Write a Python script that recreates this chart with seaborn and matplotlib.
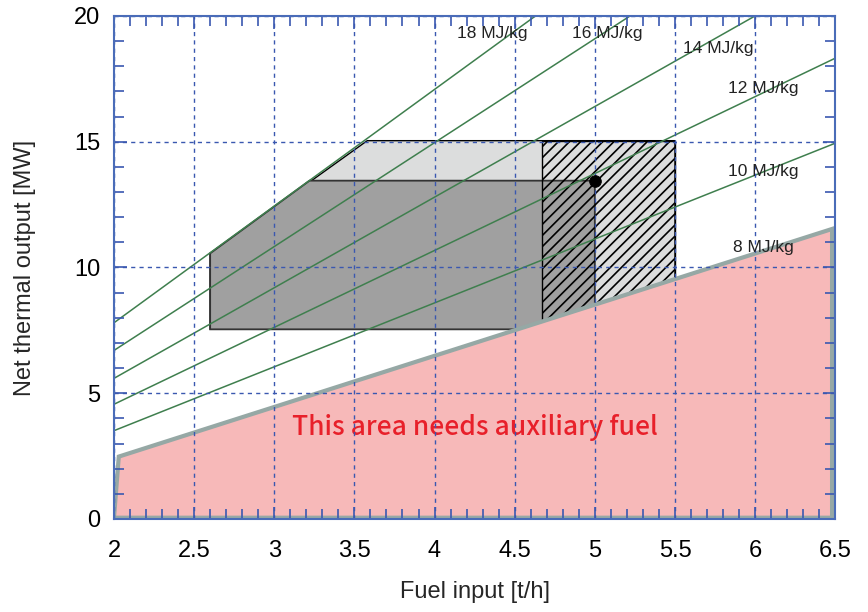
import numpy as np
import pandas as pd
import seaborn as sns
from matplotlib import pyplot as plt
from matplotlib.patches import Polygon, Rectangle
from matplotlib.ticker import MultipleLocator

lhv_values = [10, 12, 14, 16, 18]
line_x0 = [2.0, 2.0, 2.0, 2.0, 2.0]
line_y0 = [3.51, 4.56, 5.59, 6.70, 7.80]
line_x1 = [6.5, 6.5, 6.0, 5.22, 4.63]
line_y1 = [14.94, 18.32, 20.0, 20.0, 20.0]

# Line labels
label_text = ["18 MJ/kg", "16 MJ/kg", "14 MJ/kg", "12 MJ/kg", "10 MJ/kg", "8 MJ/kg"]
label_x = [4.14, 4.86, 5.55, 5.83, 5.83, 5.86]
label_y = [19.3, 19.3, 18.7, 17.1, 13.8, 10.8]

# Auxiliary fuel area (8 MJ/kg boundary)
aux_x = [2.0, 2.03, 6.48, 6.48]
aux_y = [0.05, 2.48, 11.53, 0.05]

# Operating range
range_x = [2.6, 2.6, 3.58, 5.5, 5.5]
range_y = [7.54, 10.56, 15.04, 15.04, 7.54]
normal_x = [2.6, 2.6, 3.22, 5.0, 5.0]
normal_y = [7.54, 10.56, 13.45, 13.45, 7.54]
hatch_x = [4.67, 5.5]
hatch_y = [7.54, 15.04]

# Design point
design_x = [5.0]
design_y = [13.45]

lines_df = pd.DataFrame({
    "lhv": lhv_values * 2,
    "fuel": line_x0 + line_x1,
    "output": line_y0 + line_y1,
})

sns.set_theme(style="white")
plt.rcParams["font.family"] = ["Liberation Sans", "DejaVu Sans"]
plt.rcParams["hatch.linewidth"] = 1.2

blue = "#3a58b0"
fig = plt.figure(figsize=(8.68, 6.12), dpi=100)
ax = fig.add_axes([0.1313, 0.152, 0.831, 0.822])

# grey operating regions
ax.add_patch(Polygon(list(zip(range_x, range_y)), closed=True, facecolor="#dcdddd",
                     edgecolor="black", lw=1.0, zorder=1.0))
ax.add_patch(Polygon(list(zip(normal_x, normal_y)), closed=True, facecolor="#a0a0a0",
                     edgecolor="#333333", lw=1.3, zorder=1.1))
ax.add_patch(Rectangle((hatch_x[0], hatch_y[0]), hatch_x[1] - hatch_x[0], hatch_y[1] - hatch_y[0],
                       facecolor="none", edgecolor="black", hatch="///", lw=1.0, zorder=1.2))

# green heating value lines
sns.lineplot(data=lines_df, x="fuel", y="output", units="lhv", estimator=None,
             color="#3f7f4e", lw=1.1, ax=ax, zorder=1.3)

# auxiliary fuel area
ax.add_patch(Polygon(list(zip(aux_x, aux_y)), closed=True, facecolor="#f7b9b9",
                     edgecolor="#96a8a5", lw=3, zorder=1.5))

sns.scatterplot(x=design_x, y=design_y, color="black", s=70, edgecolor="black", ax=ax, zorder=3)

for t, x, y in zip(label_text, label_x, label_y):
    ax.text(x, y, t, fontsize=12.5, color="#222222", va="center", ha="left", zorder=3)

ax.text(4.25, 3.62, "This area needs auxiliary fuel", color="#e8202a", fontsize=19,
        weight="medium", family=["Noto Sans CJK JP", "DejaVu Sans"],
        ha="center", va="center", zorder=1.6)

ax.set_xlim(2, 6.5)
ax.set_ylim(0, 20)
ax.xaxis.set_major_locator(MultipleLocator(0.5))
ax.xaxis.set_minor_locator(MultipleLocator(0.1))
ax.yaxis.set_major_locator(MultipleLocator(5))
ax.yaxis.set_minor_locator(MultipleLocator(1))
ax.set_xticks(np.arange(2, 6.51, 0.5))
ax.set_xticklabels(["2", "2.5", "3", "3.5", "4", "4.5", "5", "5.5", "6", "6.5"])

ax.set_axisbelow(False)
ax.grid(True, which="major", color=blue, ls=(0, (3, 3)), lw=1.0)
for s in ax.spines.values():
    s.set_color("#4a6cb8")
    s.set_linewidth(1.5)
    s.set_zorder(8)

ax.tick_params(which="both", direction="in", top=True, right=True, bottom=True, left=True,
               color=blue, width=1.2, labelsize=17, labelcolor="black")
ax.tick_params(which="major", length=9, pad=10)
ax.tick_params(which="minor", length=7)
ax.tick_params(axis="x", which="major", pad=15)

ax.set_xlabel("Fuel input [t/h]", fontsize=17, labelpad=14)
ax.set_ylabel("Net thermal output [MW]", fontsize=17, labelpad=27)

fig.savefig("out.png", dpi=100)
